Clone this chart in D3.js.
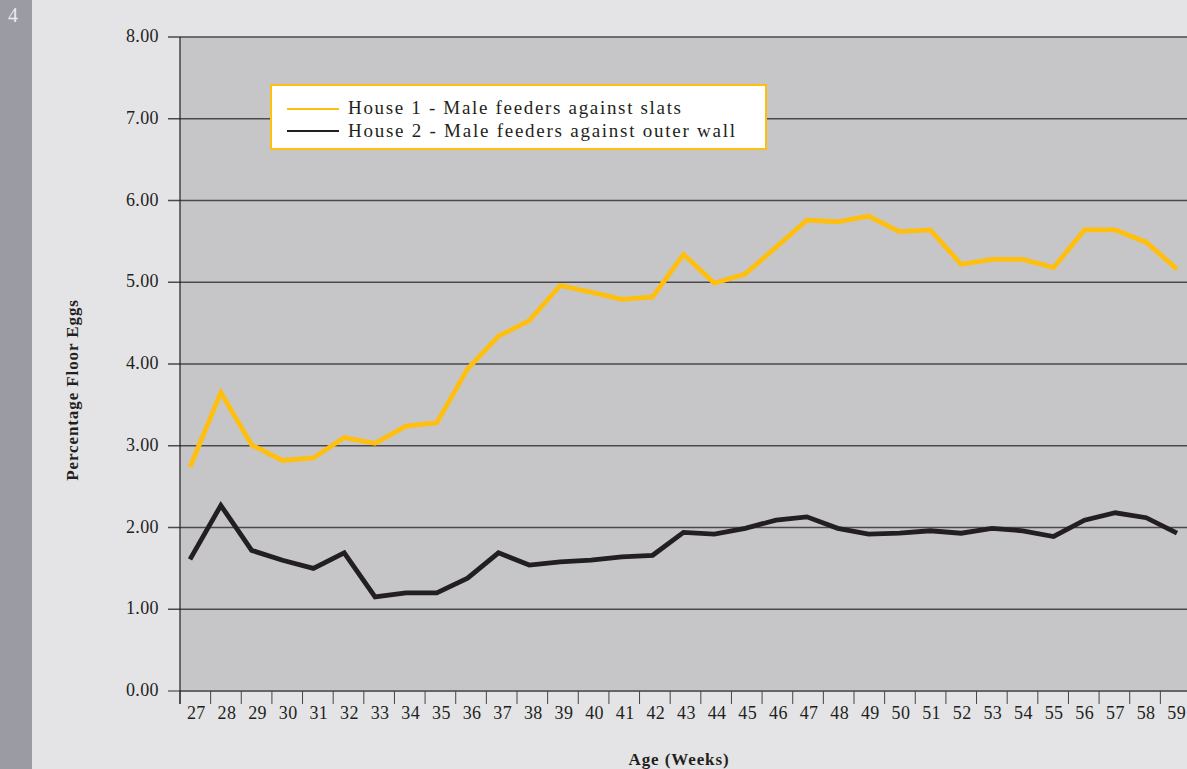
<!DOCTYPE html>
<html>
<head>
<meta charset="utf-8">
<script src="https://cdn.jsdelivr.net/npm/d3@7"></script>
<style>
  html, body { margin: 0; padding: 0; background: #e4e4e6; overflow: hidden; }
  svg { display: block; }
</style>
</head>
<body>
<div id="chart"></div>
<script>
const weeks = [27, 28, 29, 30, 31, 32, 33, 34, 35, 36, 37, 38, 39, 40, 41, 42, 43,
               44, 45, 46, 47, 48, 49, 50, 51, 52, 53, 54, 55, 56, 57, 58, 59];
const house1 = [2.74, 3.65, 3.01, 2.82, 2.85, 3.10, 3.03, 3.24, 3.28, 3.94, 4.34, 4.53, 4.96,
                4.88, 4.79, 4.82, 5.34, 4.99, 5.10, 5.43, 5.76, 5.74, 5.81, 5.62, 5.64, 5.22,
                5.28, 5.28, 5.18, 5.64, 5.64, 5.49, 5.16];
const house2 = [1.61, 2.27, 1.72, 1.60, 1.50, 1.69, 1.15, 1.20, 1.20, 1.38, 1.69, 1.54, 1.58,
                1.60, 1.64, 1.66, 1.94, 1.92, 1.99, 2.09, 2.13, 1.99, 1.92, 1.93, 1.96, 1.93,
                1.99, 1.96, 1.89, 2.09, 2.18, 2.12, 1.93];
const yTicks = [0, 1, 2, 3, 4, 5, 6, 7, 8];
const seriesNames = ["House 1 - Male feeders against slats", "House 2 - Male feeders against outer wall"];

const width = 1187;
const height = 769;
const serif = "'Liberation Serif', 'DejaVu Serif', serif";

const svg = d3.select("#chart")
    .append("svg")
    .attr("width", width)
    .attr("height", height);

// page background + side strip
svg.append("rect").attr("width", width).attr("height", height).attr("fill", "#e4e4e6");
svg.append("rect").attr("width", 32).attr("height", height).attr("fill", "#9b9ba3");
svg.append("text")
    .attr("x", 8).attr("y", 22)
    .attr("fill", "#ececec")
    .style("font-family", serif)
    .style("font-size", "20px")
    .text("4");

const plotLeft = 180, plotTop = 37, plotBottom = 691, plotRight = 1191;

const y = d3.scaleLinear().domain([0, 8]).range([plotBottom, plotTop]);
// axis categories (ticks between bands)
const xBand = d3.scaleBand().domain(weeks).range([plotLeft, plotRight]);
// data points
const x = d3.scalePoint().domain(weeks).range([190, 1177]);

// plot area
svg.append("rect")
    .attr("x", plotLeft).attr("y", plotTop)
    .attr("width", plotRight - plotLeft).attr("height", plotBottom - plotTop)
    .attr("fill", "#c6c6c8");

// gridlines + y tick marks
svg.append("g")
    .selectAll("line")
    .data(yTicks.filter(d => d > 0))
    .enter()
    .append("line")
    .attr("x1", 168).attr("x2", plotRight)
    .attr("y1", d => y(d)).attr("y2", d => y(d))
    .attr("stroke", "#4a4a4c")
    .attr("stroke-width", 1.3);

svg.append("line")
    .attr("x1", 168).attr("x2", plotLeft)
    .attr("y1", y(0)).attr("y2", y(0))
    .attr("stroke", "#555").attr("stroke-width", 1.3);

// y labels
svg.append("g")
    .selectAll("text")
    .data(yTicks)
    .enter()
    .append("text")
    .attr("x", 159)
    .attr("y", d => y(d) + 5)
    .attr("text-anchor", "end")
    .attr("fill", "#231f20")
    .style("font-family", serif)
    .style("font-size", "18px")
    .style("letter-spacing", "0.4px")
    .text(d => d.toFixed(2));

// x axis line
svg.append("line")
    .attr("x1", plotLeft).attr("x2", plotRight)
    .attr("y1", y(0)).attr("y2", y(0))
    .attr("stroke", "#666").attr("stroke-width", 2);

// x tick marks at band edges
svg.append("g")
    .selectAll("line")
    .data(weeks)
    .enter()
    .append("line")
    .attr("x1", d => xBand(d)).attr("x2", d => xBand(d))
    .attr("y1", y(0)).attr("y2", y(0) + 13)
    .attr("stroke", "#444").attr("stroke-width", 1);

// y axis line
svg.append("line")
    .attr("x1", plotLeft).attr("x2", plotLeft)
    .attr("y1", plotTop).attr("y2", y(0) + 13)
    .attr("stroke", "#231f20").attr("stroke-width", 1.2);

// x labels
svg.append("g")
    .selectAll("text")
    .data(weeks)
    .enter()
    .append("text")
    .attr("x", d => xBand(d) + xBand.bandwidth() / 2 + 1)
    .attr("y", 719)
    .attr("text-anchor", "middle")
    .attr("fill", "#231f20")
    .style("font-family", serif)
    .style("font-size", "18px")
    .style("letter-spacing", "0.4px")
    .text(d => d);

// lines
const line = d3.line()
    .x((d, i) => x(weeks[i]))
    .y(d => y(d));

svg.append("path")
    .datum(house1)
    .attr("d", line)
    .attr("fill", "none")
    .attr("stroke", "#ffbf0f")
    .attr("stroke-width", 4.8)
    .attr("stroke-linejoin", "miter");

svg.append("path")
    .datum(house2)
    .attr("d", line)
    .attr("fill", "none")
    .attr("stroke", "#231f20")
    .attr("stroke-width", 4.8)
    .attr("stroke-linejoin", "miter");

// axis titles
svg.append("text")
    .attr("transform", "translate(78, 390) rotate(-90)")
    .attr("text-anchor", "middle")
    .attr("fill", "#231f20")
    .style("font-family", serif)
    .style("font-size", "17px")
    .style("font-weight", "bold")
    .style("letter-spacing", "0.9px")
    .text("Percentage Floor Eggs");

svg.append("text")
    .attr("x", 679).attr("y", 765)
    .attr("text-anchor", "middle")
    .attr("fill", "#231f20")
    .style("font-family", serif)
    .style("font-size", "17px")
    .style("font-weight", "bold")
    .style("letter-spacing", "0.9px")
    .text("Age (Weeks)");

// legend
const legend = svg.append("g").attr("transform", "translate(271, 85)");
legend.append("rect")
    .attr("width", 495).attr("height", 64)
    .attr("fill", "#ffffff")
    .attr("stroke", "#ffbf0f")
    .attr("stroke-width", 2);

const legendColors = ["#ffbf0f", "#231f20"];
const legendWidths = [333, 387];
legend.selectAll("line")
    .data(seriesNames)
    .enter()
    .append("line")
    .attr("x1", 16).attr("x2", 68)
    .attr("y1", (d, i) => 24 + i * 22).attr("y2", (d, i) => 24 + i * 22)
    .attr("stroke", (d, i) => legendColors[i])
    .attr("stroke-width", 2);

legend.selectAll("text")
    .data(seriesNames)
    .enter()
    .append("text")
    .attr("x", 77)
    .attr("y", (d, i) => 29 + i * 23)
    .attr("fill", "#231f20")
    .attr("textLength", (d, i) => legendWidths[i])
    .attr("lengthAdjust", "spacing")
    .style("font-family", serif)
    .style("font-size", "19px")
    .text(d => d);
</script>
</body>
</html>
